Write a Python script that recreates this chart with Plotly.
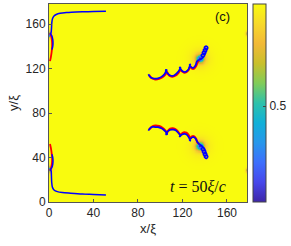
import numpy as np
import plotly.graph_objects as go

# ---------------- data ----------------
L = 178.0
# vortex positions (density dips), core sizes, halo strength / width
vort_x = [135.6, 135.6, -0.8, -0.8, 179.2, 179.2]
vort_y = [129.0, 50.3, 150.5, 29.5, 151.6, 28.7]
vort_a = [3.0, 3.0, 1.8, 1.8, 1.4, 1.4]
halo_amp = [0.06, 0.06, 0.07, 0.07, 0.0, 0.0]
halo_w = [11.0, 11.0, 5.0, 5.0, 1.0, 1.0]

# upper-right trajectory (blue)
ur_bx = [89.3, 91.0, 93.0, 95.3, 98.0, 101.0, 103.5, 105.2, 105.9, 104.9, 105.4, 106.8, 108.6, 110.3,
         112.5, 114.5, 116.5, 117.8, 118.2, 117.4, 118.6, 120.0, 121.2, 122.2, 123.8, 125.5, 126.7,
         127.1, 126.4, 127.6, 128.6, 129.7, 131.0, 132.2, 132.7, 133.8, 135.2, 136.8, 138.4,
         139.9, 138.4, 136.9, 138.4, 140.9, 139.4, 137.9, 139.4, 141.8, 140.3, 138.8, 140.3,
         142.7, 141.2, 139.7, 141.2, 142.7]
ur_by = [114.8, 112.4, 111.2, 110.9, 111.2, 112.5, 114.5, 117.5, 118.6, 118.8, 117.2, 115.5, 113.9, 113.3,
         113.8, 115.3, 117.5, 120.0, 121.0, 121.0, 119.2, 117.6, 117.0, 116.9, 117.6, 119.5, 123.0,
         123.8, 123.4, 121.4, 120.7, 120.6, 121.8, 124.0, 126.0, 127.2, 127.8, 128.6, 130.0,
         131.8, 133.3, 131.8, 130.3, 134.3, 135.8, 134.3, 132.8, 136.6, 138.1, 136.6, 135.1,
         138.7, 140.2, 138.7, 137.2, 138.5]
# upper-right trajectory (red)
ur_rx = [89.8, 92.0, 95.5, 99.0, 102.0, 104.5, 106.0, 107.0, 109.0, 111.0, 113.5, 116.0, 118.3,
         119.5, 121.5, 123.5, 125.5, 127.2, 128.5, 130.5, 132.3, 133.5, 135.0]
ur_ry = [114.2, 111.6, 110.3, 110.8, 112.3, 114.6, 117.0, 115.0, 113.2, 112.8, 113.6, 115.8, 119.0,
         117.5, 116.3, 116.8, 118.8, 122.0, 120.0, 120.0, 122.5, 125.5, 127.0]

# lower-right trajectory (blue)
lr_bx = [89.3, 91.0, 93.0, 95.3, 98.0, 101.0, 103.5, 105.8, 106.3, 105.2, 105.6, 106.9, 108.6, 110.5,
         111.7, 113.8, 115.6, 117.8, 118.2, 117.3, 118.8, 120.4, 122.2, 124.0, 125.5, 126.7,
         127.1, 126.4, 127.7, 129.0, 130.3, 131.8, 133.3, 135.0, 136.8, 138.4,
         139.9, 138.4, 136.9, 138.4, 140.9, 139.4, 137.9, 139.4, 141.8, 140.3, 138.8, 140.3,
         142.7, 141.2, 139.7, 141.2, 142.7]
lr_by = [64.2, 66.5, 67.6, 67.4, 67.3, 66.2, 64.5, 62.2, 61.0, 60.8, 62.0, 63.6, 64.8, 65.1,
         65.1, 64.5, 62.8, 60.3, 59.2, 59.0, 60.2, 61.0, 61.2, 60.3, 58.3, 56.0,
         55.2, 55.6, 57.4, 58.2, 58.2, 57.0, 54.2, 52.0, 50.8, 49.4,
         47.6, 46.1, 47.6, 49.1, 45.1, 43.6, 45.1, 46.6, 42.8, 41.3, 42.8, 44.3,
         40.7, 39.2, 40.7, 42.2, 40.9]
# lower-right trajectory (red)
lr_rx = [89.8, 92.0, 95.5, 99.0, 102.0, 104.5, 106.0, 107.0, 109.0, 111.0, 113.5, 116.0, 118.3,
         119.5, 121.5, 123.5, 125.5, 127.2, 128.5, 130.5, 132.3, 133.5, 135.0]
lr_ry = [64.8, 67.4, 68.7, 68.2, 66.7, 64.4, 62.0, 64.0, 65.8, 66.2, 65.4, 63.2, 60.0,
         61.5, 62.7, 62.2, 60.2, 57.0, 59.0, 59.0, 56.5, 53.5, 52.0]

# upper-left trajectory
ul_bx = [51.2, 40.0, 30.0, 20.0, 15.9, 10.0, 6.5, 4.5, 3.2, 2.5, 2.3, 2.0, 1.6, 2.6, 3.4, 3.6, 3.3, 2.6]
ul_by = [171.5, 171.2, 171.0, 170.6, 170.3, 169.6, 168.6, 167.3, 165.0, 161.0, 157.0, 153.0, 151.0,
         149.2, 146.0, 142.5, 139.5, 137.0]
ul_rx = [1.0, 2.2, 2.8, 2.6, 1.8, 0.9]
ul_ry = [152.0, 148.0, 143.0, 137.0, 131.0, 126.6]

# lower-left trajectory
ll_bx = [51.2, 40.0, 30.0, 19.5, 12.0, 7.5, 4.5, 3.0, 2.4, 2.2, 2.0, 1.6, 2.6, 3.4, 3.6, 3.3, 2.6]
ll_by = [6.3, 6.8, 7.2, 7.9, 8.5, 9.3, 10.8, 13.5, 18.0, 23.0, 27.5, 29.5, 31.0, 34.0, 37.5, 40.5, 43.0]
ll_rx = [1.0, 2.2, 2.8, 2.6, 1.8, 0.9]
ll_ry = [28.0, 32.0, 37.0, 42.0, 48.0, 52.2]

x_ticks = [0, 40, 80, 120, 160]
y_ticks = [0, 40, 80, 120, 160]
cbar_ticks = [0.5, 1]

# ---------------- density field from vortex list ----------------
gx = np.linspace(0, L, 357)
gy = np.linspace(0, L, 357)
X, Y = np.meshgrid(gx, gy)
rho = np.ones_like(X)
for vx, vy, a, ha, hw in zip(vort_x, vort_y, vort_a, halo_amp, halo_w):
    r = np.hypot(X - vx, Y - vy)
    rho *= np.tanh(r / a) ** 2
    rho *= 1 - ha * np.exp(-(r / hw) ** 2)

parula = [
    [0.00, "#3e26a8"], [0.10, "#4747eb"], [0.20, "#3d6ffd"], [0.30, "#2797eb"],
    [0.40, "#10b0d8"], [0.50, "#2ec1aa"], [0.60, "#81cc59"], [0.70, "#c9c02b"],
    [0.80, "#f2b937"], [0.90, "#f7d92a"], [1.00, "#f9fb0e"],
]

fig = go.Figure()
fig.add_trace(go.Heatmap(
    x=gx, y=gy, z=rho, colorscale=parula, zmin=0.03, zmax=1.0, zsmooth="best",
    colorbar=dict(
        x=1.03, xanchor="left", xpad=0, y=0.5, yanchor="middle", len=1.0, lenmode="fraction",
        ypad=0, thickness=13, outlinewidth=1, outlinecolor="#444",
        tickvals=cbar_ticks, ticktext=["0.5", "1"], ticks="inside", ticklen=3,
        tickfont=dict(family="Liberation Sans", size=12, color="#262626"),
    ),
))


def line(xs, ys, color, width=1.6):
    fig.add_trace(go.Scatter(x=xs, y=ys, mode="lines",
                             line=dict(color=color, width=width, shape="spline", smoothing=0.8),
                             hoverinfo="skip", showlegend=False))


line(ur_rx, ur_ry, "#ff0000", 2.2)
line(ur_bx, ur_by, "#0000ff", 1.7)
line(lr_rx, lr_ry, "#ff0000", 2.2)
line(lr_bx, lr_by, "#0000ff", 1.7)
line(ul_rx, ul_ry, "#ff0000", 1.8)
line(ul_bx, ul_by, "#0000ff", 1.5)
line(ll_rx, ll_ry, "#ff0000", 1.8)
line(ll_bx, ll_by, "#0000ff", 1.5)

axis_common = dict(
    range=[0, L], showline=True, linecolor="#555", linewidth=1, mirror=True,
    ticks="inside", ticklen=3, tickcolor="#555", showgrid=False, zeroline=False,
    automargin=False,
    tickfont=dict(family="Liberation Sans", size=12, color="#262626"),
)
fig.update_xaxes(tickvals=x_ticks, title=dict(text="x/ξ", standoff=4,
                 font=dict(family="Liberation Sans", size=13, color="#262626")), **axis_common)
fig.update_yaxes(tickvals=y_ticks, title=dict(text="y/ξ", standoff=4,
                 font=dict(family="Liberation Sans", size=13, color="#262626")), **axis_common)

fig.add_annotation(x=156.4, y=166.4, xref="x", yref="y", text="(c)", showarrow=False,
                   font=dict(family="Liberation Sans", size=13, color="#111"))
fig.add_annotation(x=134, y=13.6, xref="x", yref="y", text="<i>t</i> = 50<i>ξ</i>/<i>c</i>",
                   showarrow=False, font=dict(family="Liberation Serif", size=16, color="#111"))

fig.update_layout(
    width=291, height=246, margin=dict(l=49, r=44, t=4, b=44, autoexpand=False),
    paper_bgcolor="white", plot_bgcolor="white",
)
fig.write_html("out.html", config={"displayModeBar": False},
               post_script="document.body.style.margin='0';document.body.style.overflow='hidden';")
